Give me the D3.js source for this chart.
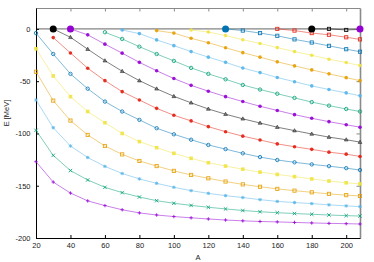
<!DOCTYPE html>
<html><head><meta charset="utf-8">
<script src="https://cdn.jsdelivr.net/npm/d3@7"></script>
<style>body{margin:0;background:#fff}svg{display:block}text{font-family:"Liberation Sans",Arial,sans-serif}</style>
</head><body><svg id="c" width="374" height="262"></svg>
<script>
const A = [20,30,40,50,60,70,80,90,100,110,120,130,140,150,160,170,180,190,200,208];
const n = null;
const level1  = [-127,-146.5,-157,-164.5,-169,-173,-176,-178,-179.5,-180.7,-181.8,-182.8,-183.6,-184.2,-184.6,-185.1,-185.6,-186,-186.3,-186.6];
const level2  = [-97,-121,-135.5,-144.5,-151.5,-156.6,-160.8,-164.3,-166.8,-168.8,-170.6,-172.2,-173.7,-174.9,-175.8,-176.6,-177.3,-178,-178.6,-179];
const level3  = [-68,-94.5,-112,-123,-131.5,-138.3,-143.5,-147.7,-151.5,-154.7,-157.3,-159.5,-161.3,-163.3,-165,-166.1,-167.1,-168.3,-169.3,-170];
const level4  = [-41,-68.6,-87.7,-101.4,-112,-120,-126.3,-131.2,-135.8,-139.7,-142.9,-146,-148.7,-151,-153,-154.7,-156.3,-157.8,-159,-159.8];
const level5  = [-19,-45,-64.8,-79,-89.7,-100,-107.8,-113.6,-119,-123.8,-128,-131.2,-134.2,-137,-139.2,-141.3,-143.5,-145.5,-147.2,-148.3];
const level6  = [-4,-24,-43,-57.2,-69.5,-79,-87,-95,-100.8,-106,-111,-115,-119,-122.6,-125.4,-127.6,-129.6,-131.3,-133.2,-135];
const level7  = [n,-8.3,-23,-37.6,-49.5,-60,-68,-76,-82.6,-88,-93.5,-98.3,-102.6,-106.2,-110,-112.7,-115.2,-117.9,-119.8,-122];
const level8  = [n,0,-8,-19.4,-30.4,-40.5,-49.5,-57.3,-64.5,-70.7,-76.6,-81.6,-86,-90,-94,-97.3,-100.5,-103.5,-106,-108.3];
const level9  = [n,n,0,-5.7,-14.6,-23.2,-32,-40,-47.5,-54,-59.6,-64.8,-69.5,-74,-78,-82,-85.5,-88.7,-91.7,-94];
const level10 = [n,n,n,n,-3.2,-9.6,-17,-24,-30.6,-37.3,-43,-48.2,-53.6,-58,-62,-66,-70,-73.4,-76.6,-79];
const level11 = [n,n,n,n,n,-1,-4.5,-10.5,-16,-21.7,-27,-32,-37.4,-41.8,-46.5,-50.5,-54.5,-58,-61.2,-64];
const level12 = [n,n,n,n,n,n,n,-1.6,-4,-9,-13.2,-18,-22.7,-27,-31.5,-35.4,-39.2,-43,-46.6,-49.5];
const level13 = [n,n,n,n,n,n,n,n,n,-1,-3,-6.4,-10.3,-13.9,-17.9,-21.7,-25.2,-29,-32.2,-35];
const level14 = [n,n,n,n,n,n,n,n,n,n,n,0,-1.6,-4,-6.6,-10,-13,-16.2,-19.4,-21.8];
const level15 = [n,n,n,n,n,n,n,n,n,n,n,n,n,n,0,-1.6,-4,-5.6,-8,-10];
const level16 = [n,n,n,n,n,n,n,n,n,n,n,n,n,n,n,n,0,0,-1,-0.5];
const level17 = [n,n,n,n,n,n,n,n,n,n,n,n,n,n,n,n,n,n,n,0];
const levels = [level1,level2,level3,level4,level5,level6,level7,level8,level9,level10,level11,level12,level13,level14,level15,level16,level17];
// indices (1-based) of the levels whose first point is drawn as a large dot
const bigLevels = [8,9,14,16,17];
const xTicks = [20,40,60,80,100,120,140,160,180,200];
const yTicks = [0,-50,-100,-150,-200];

const palette = ["#9400d3","#009e73","#56b4e9","#e69f00","#f0e442","#0072b2","#e51e10","#000000"];
const markers = ["plus","cross","star","sq","fsq","circ","fcirc","tri","fcirc","circ","fcirc","fcirc","fcirc","sq","sq","sq","none"];

const svg = d3.select("#c");
const L=36,R=360,T=8,B=238;
const x = d3.scaleLinear([20,208],[L,R]);
const y = d3.scaleLinear([-200,20],[B,T]);

const gTop = svg.append("g").attr("transform",`translate(0,${T})`)
  .call(d3.axisTop(x).tickValues(xTicks).tickSize(-3.5).tickFormat("").tickSizeOuter(0));
const gRight = svg.append("g").attr("transform",`translate(${R},0)`)
  .call(d3.axisRight(y).tickValues(yTicks).tickSize(-3.5).tickFormat("").tickSizeOuter(0));
[gTop,gRight].forEach(g=>{g.selectAll("path,line").attr("stroke","#8a8a8a");});
gRight.select(".domain").attr("stroke-width",1.6);

svg.append("line").attr("x1",L).attr("x2",R).attr("y1",y(0)).attr("y2",y(0))
  .attr("stroke","#666").attr("stroke-width",1);

const gBot = svg.append("g").attr("transform",`translate(0,${B})`)
  .call(d3.axisBottom(x).tickValues(xTicks).tickSize(-3).tickPadding(4.5).tickSizeOuter(0));
const gLeft = svg.append("g").attr("transform",`translate(${L},0)`)
  .call(d3.axisLeft(y).tickValues(yTicks).tickSize(-3).tickPadding(5.5).tickSizeOuter(0)
  .tickFormat(d=>d3.format("d")(d).replace("−","-")));
[gBot,gLeft].forEach(g=>{
  g.selectAll("path,line").attr("stroke","#000");
  g.selectAll("text").attr("font-size","7.5px").attr("fill","#222").attr("font-family",'"Liberation Sans",Arial,sans-serif');
});

svg.append("text").attr("x",(L+R)/2).attr("y",260).attr("text-anchor","middle")
  .attr("font-size","7.5px").attr("fill","#222").text("A");
svg.append("text").attr("transform","translate(9,113) rotate(-90)").attr("text-anchor","middle")
  .attr("font-size","7.5px").attr("fill","#222").text("E [MeV]");

const line = d3.line().defined(d=>d.e!==null).x(d=>x(d.a)).y(d=>y(d.e));
const plot = svg.append("g");
levels.forEach((vals,i)=>{
  const col = palette[i%8];
  const pts = A.map((a,j)=>({a,e:vals[j]}));
  plot.append("path").datum(pts).attr("d",line).attr("fill","none")
    .attr("stroke",col).attr("stroke-width",1).attr("stroke-opacity",0.5);
});
levels.forEach((vals,i)=>{
  const col = palette[i%8];
  const m = markers[i];
  const pts = A.map((a,j)=>({a,e:vals[j]})).filter(d=>d.e!==null);
  const g = plot.append("g").attr("opacity",0.9);
  pts.forEach(d=>{
    const cx=x(d.a), cy=y(d.e);
    const s = 1.7;
    if(m==="plus"){
      g.append("path").attr("d",`M${cx-s},${cy}H${cx+s}M${cx},${cy-s}V${cy+s}`).attr("stroke",col).attr("stroke-width",0.9);
    } else if(m==="cross"){
      g.append("path").attr("d",`M${cx-s},${cy-s}L${cx+s},${cy+s}M${cx-s},${cy+s}L${cx+s},${cy-s}`).attr("stroke",col).attr("stroke-width",0.9);
    } else if(m==="star"){
      g.append("path").attr("d",`M${cx-s},${cy}H${cx+s}M${cx},${cy-s}V${cy+s}M${cx-s*.75},${cy-s*.75}L${cx+s*.75},${cy+s*.75}M${cx-s*.75},${cy+s*.75}L${cx+s*.75},${cy-s*.75}`).attr("stroke",col).attr("stroke-width",0.9);
    } else if(m==="sq"){
      g.append("rect").attr("x",cx-1.6).attr("y",cy-1.6).attr("width",3.2).attr("height",3.2).attr("fill","none").attr("stroke",col).attr("stroke-width",0.9);
    } else if(m==="fsq"){
      g.append("rect").attr("x",cx-1.8).attr("y",cy-1.8).attr("width",3.6).attr("height",3.6).attr("fill",col);
    } else if(m==="circ"){
      g.append("circle").attr("cx",cx).attr("cy",cy).attr("r",1.7).attr("fill","none").attr("stroke",col).attr("stroke-width",0.9);
    } else if(m==="fcirc"){
      g.append("circle").attr("cx",cx).attr("cy",cy).attr("r",1.8).attr("fill",col);
    } else if(m==="tri"){
      g.append("path").attr("d",`M${cx},${cy-2}L${cx+1.9},${cy+1.3}L${cx-1.9},${cy+1.3}Z`).attr("fill","#777").attr("stroke",col).attr("stroke-width",0.5);
    }
  });
});
bigLevels.forEach(k=>{
  const vals = levels[k-1];
  const j = vals.findIndex(v=>v!==null);
  plot.append("circle").attr("cx",x(A[j])).attr("cy",y(vals[j])).attr("r",3.5).attr("fill",palette[(k-1)%8]);
});
</script></body></html>
